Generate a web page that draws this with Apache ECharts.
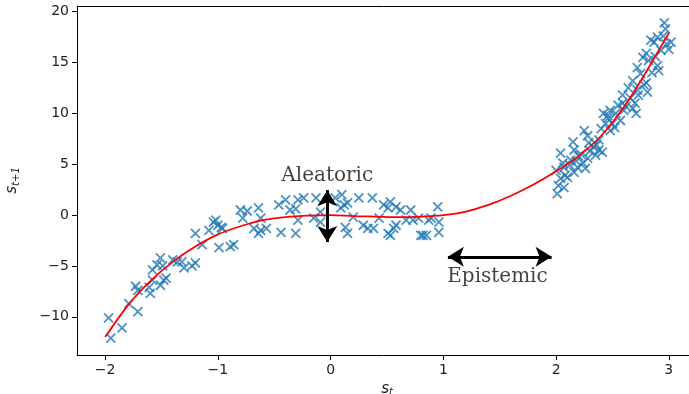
<!DOCTYPE html>
<html>
<head>
<meta charset="utf-8">
<script src="https://cdn.jsdelivr.net/npm/echarts@6/dist/echarts.min.js"></script>
<style>
  html, body { margin: 0; padding: 0; background: #fff; }
  #chart { width: 689px; height: 394px; }
</style>
</head>
<body>
<div id="chart"></div>
<script>
// Observed transitions (s_t, s_{t+1})
const sampleX = [
  -1.95, -1.97, -1.85, -1.79, -1.71, -1.73, -1.71, -1.60, -1.61, -1.58, -1.51, -1.54, -1.49, -1.46,
  -1.51, -1.40, -1.36, -1.32, -1.30, -1.20, -1.23, -1.14, -1.20, -1.08, -1.02, -1.00, -0.97, -0.99,
  -0.89, -1.58, -1.48, -1.04, -0.96,
  -0.80, -0.74, -0.78, -0.64, -0.62, -0.68, -0.62, -0.57, -0.64, -0.46, -0.40, -0.36, -0.29, -0.24,
  -0.44, -0.31, -0.29, -0.31, -0.13, -0.15, 0.04, 0.09, 0.10, 0.12, 0.25, 0.37, 0.20, 0.13, 0.15,
  0.29, 0.33, 0.38, 0.43, 0.53, 0.51, 0.58, 0.62, 0.71, 0.56, 0.51, 0.58, 0.67, 0.73, 0.78, 0.82,
  0.85, 0.89, 0.95, 0.96, 0.96, -0.09, -0.09, 0.15, 0.47, 0.53, 0.80, 0.87, -0.86,
  2.01, 2.02, 2.04, 2.00, 2.07, 2.06, 2.04, 2.10, 2.07, 2.13, 2.15, 2.16, 2.16, 2.19, 2.24, 2.26,
  2.28, 2.25, 2.29, 2.33, 2.38, 2.41, 2.40, 2.44, 2.48, 2.46, 2.53, 2.57, 2.59, 2.68, 2.71, 2.46,
  2.42, 2.48, 2.55, 2.60, 2.66, 2.59, 2.64, 2.72, 2.68, 2.73, 2.81, 2.75, 2.80, 2.72, 2.90, 2.91,
  2.82, 2.77, 2.80, 2.93, 3.00, 3.02, 2.87, 2.97, 2.96, 2.84,
  2.20, 2.22, 2.30, 2.35, 2.36, 2.38, 2.18, 2.12, 2.08, 2.28, 2.50, 2.52, 2.62, 2.70, 2.78, 2.85,
  2.88, 2.95, 2.90, 2.98
];
const sampleY = [
  -12.1, -10.1, -11.1, -8.7, -9.5, -7.0, -7.4, -7.7, -7.1, -5.4, -4.2, -4.9, -5.0, -6.2,
  -6.9, -4.4, -4.6, -4.6, -5.2, -4.7, -5.0, -2.9, -1.8, -1.5, -0.5, -1.0, -1.2, -3.2,
  -3.1, -6.4, -6.4, -0.7, -1.3,
  0.5, 0.4, -0.3, 0.7, -0.3, -1.3, -1.5, -1.3, -1.8, 1.0, 1.5, 0.5, 1.5, 1.7,
  -1.7, -1.8, -0.5, 0.6, 1.7, -0.3, 1.7, 0.7, 2.0, 1.0, 1.7, 1.7, -0.2, -1.2, -1.8,
  -1.0, -1.3, -1.3, -0.3, 1.3, 0.7, 0.8, 0.5, 0.5, -1.3, -1.8, -1.0, -0.5, -0.5, -0.3, -2.0,
  -2.0, -0.3, 0.8, -0.7, -1.7, 0.3, -0.7, 1.2, 1.0, -2.0, -2.0, -0.5, -2.9,
  2.1, 2.9, 3.6, 4.4, 4.7, 5.1, 6.1, 3.7, 2.7, 5.4, 7.2, 6.4, 4.2, 4.7, 5.1, 4.6,
  5.6, 8.3, 7.1, 6.7, 6.4, 6.2, 8.5, 9.0, 8.3, 9.8, 10.0, 9.3, 11.0, 10.5, 10.0, 9.5,
  10.0, 10.3, 10.8, 10.3, 11.5, 11.8, 12.5, 12.3, 13.2, 11.8, 12.1, 13.9, 13.0, 14.5, 14.7, 14.2,
  15.2, 15.5, 15.9, 16.2, 16.3, 17.0, 17.0, 18.3, 18.9, 17.2,
  5.8, 6.0, 6.3, 5.9, 6.9, 7.4, 5.3, 4.9, 3.9, 7.8, 9.0, 8.6, 10.7, 11.0, 12.8, 14.0,
  15.6, 17.6, 17.5, 16.8
];

// Fitted mean dynamics
const curveX = [-2.0, -1.8, -1.6, -1.4, -1.2, -1.0, -0.8, -0.6, -0.4, -0.2, 0.0, 0.2, 0.4, 0.6,
  0.8, 1.0, 1.2, 1.4, 1.6, 1.8, 2.0, 2.2, 2.4, 2.6, 2.8, 3.0];
const curveY = [-12.0, -8.9, -6.5, -4.6, -3.1, -1.9, -1.1, -0.5, -0.2, -0.05, 0.0, -0.1, -0.15, -0.2,
  -0.15, 0.0, 0.35, 1.0, 1.9, 3.0, 4.3, 5.8, 7.8, 10.6, 14.1, 17.9];

const xTicks = [-2, -1, 0, 1, 2, 3];
const yTicks = [-10, -5, 0, 5, 10, 15, 20];

// Annotation arrows: [x, y] end points and label anchors
const aleatoricArrow = [[-0.03, 2.45], [-0.03, -2.65]];
const epistemicArrow = [[1.04, -4.1], [1.96, -4.1]];
const annotationLabels = [
  { name: 'Aleatoric', pos: [-0.03, 3.85] },
  { name: 'Epistemic', pos: [1.48, -6.1] }
];

const points = sampleX.map((x, i) => [x, sampleY[i]]);
const curve = curveX.map((x, i) => [x, curveY[i]]);
const minus = v => String(v).replace('-', '\u2212');

const chart = echarts.init(document.getElementById('chart'), null, { renderer: 'canvas' });

const tickFont = { fontFamily: 'DejaVu Sans', fontSize: 14, color: '#222' };
const serif = 'DejaVu Serif';
const spine = { show: true, onZero: false, lineStyle: { color: '#000', width: 1 } };
const nameRich = {
  i: { fontFamily: 'DejaVu Sans', fontStyle: 'italic', fontSize: 15, color: '#222' },
  sub: { fontFamily: 'DejaVu Sans', fontStyle: 'italic', fontSize: 10, color: '#222', padding: [7, 0, 0, 0] }
};

chart.setOption({
  animation: false,
  backgroundColor: '#fff',
  grid: {
    left: 77, top: 6, right: -8, bottom: 39,
    outerBoundsMode: 'none',
    containLabel: false,
    show: false
  },
  xAxis: [{
    type: 'value', min: -2.25, max: 3.25,
    splitLine: { show: false },
    axisLine: spine,
    axisTick: { show: true, length: 5, inside: false, customValues: xTicks, lineStyle: { color: '#000' } },
    axisLabel: { customValues: xTicks, formatter: minus, margin: 8, ...tickFont },
    name: '{i|s}{sub|t}',
    nameLocation: 'middle', nameGap: 24,
    nameTextStyle: { rich: nameRich }
  }, {
    // top spine of the frame
    type: 'value', position: 'top', min: -2.25, max: 3.25,
    splitLine: { show: false },
    axisLine: spine,
    axisTick: { show: false },
    axisLabel: { show: false }
  }],
  yAxis: {
    type: 'value', min: -13.76, max: 20.56,
    splitLine: { show: false },
    axisLine: spine,
    axisTick: { show: true, length: 5, inside: false, customValues: yTicks, lineStyle: { color: '#000' } },
    axisLabel: { customValues: yTicks, formatter: minus, margin: 8, ...tickFont },
    name: '{i|s}{sub|t+1}',
    nameLocation: 'middle', nameRotate: 90, nameGap: 56,
    nameTextStyle: { rich: nameRich }
  },
  series: [
    {
      type: 'scatter',
      data: points,
      symbol: 'path://M0,0L10,10M10,0L0,10',
      symbolSize: 9,
      itemStyle: { color: 'transparent', borderColor: '#1f77b4', borderWidth: 1.8 },
      z: 2
    },
    {
      type: 'line',
      data: curve,
      smooth: 0.3,
      showSymbol: false,
      lineStyle: { color: '#ff0000', width: 1.8 },
      z: 3
    },
    {
      type: 'line',
      data: [],
      z: 4,
      markLine: {
        silent: true,
        symbol: ['arrow', 'arrow'],
        symbolSize: [15, 16],
        label: { show: false },
        lineStyle: { color: '#000', width: 3, type: 'solid' },
        data: [
          [{ coord: aleatoricArrow[0] }, { coord: aleatoricArrow[1] }],
          [{ coord: epistemicArrow[0] }, { coord: epistemicArrow[1] }]
        ]
      }
    },
    {
      type: 'scatter',
      symbolSize: 0,
      z: 5,
      data: annotationLabels.map(a => ({ name: a.name, value: a.pos })),
      label: {
        show: true, position: 'inside', formatter: p => p.name,
        fontFamily: serif, fontSize: 20, color: '#111'
      }
    }
  ]
});
</script>
</body>
</html>
